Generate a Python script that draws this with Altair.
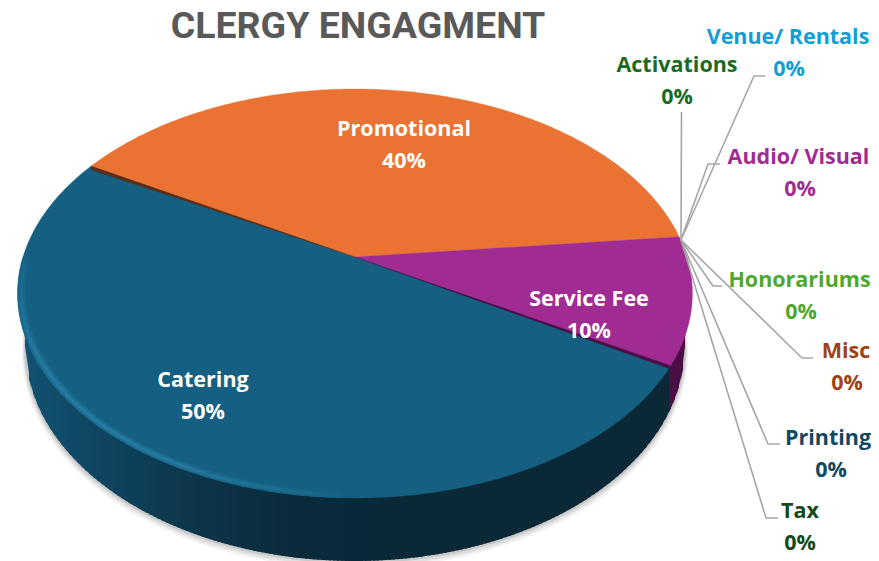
import math
import altair as alt

# ---- chart values ----
categories = ["Catering", "Promotional", "Service Fee", "Venue/ Rentals", "Activations",
              "Audio/ Visual", "Honorariums", "Misc", "Printing", "Tax"]
percents = [50, 40, 10, 0, 0, 0, 0, 0, 0, 0]
title_text = "CLERGY ENGAGMENT"

# ---- styles ----
label_colors = ["#ffffff", "#ffffff", "#ffffff", "#0F9ED5", "#196B24", "#A02B93",
                "#4EA72E", "#9C4216", "#104862", "#124A1B"]
face_colors = {"Catering": "#156082", "Promotional": "#EA7333", "Service Fee": "#A02B93"}
wall_stops = [(20, "#125273"), (100, "#0f4460"), (200, "#0c3448"), (300, "#0a2a3a"), (420, "#0a2836"), (700, "#0a2836")]
LABEL_FONT = "Open Sans"
TITLE_FONT = "Roboto"

# ---- layout (pixel positions in the picture) ----
label_pos = {
    "Catering": (203, 380), "Promotional": (404, 129), "Service Fee": (589, 299),
    "Venue/ Rentals": (788, 37), "Activations": (677, 65), "Audio/ Visual": (798.5, 157),
    "Honorariums": (799.5, 280), "Misc": (846, 351), "Printing": (828, 438), "Tax": (800, 511),
}
pct_center = {"Venue/ Rentals": 789, "Audio/ Visual": 800, "Honorariums": 801, "Misc": 847, "Printing": 831}
line_gap = 32
hub = (681, 239)
leaders = {
    "Venue/ Rentals": [(754, 75), (765, 75)],
    "Activations": [(681.5, 111)],
    "Audio/ Visual": [(708, 163), (720, 163)],
    "Honorariums": [(713, 285), (722, 285)],
    "Misc": [(802, 357), (813, 357)],
    "Printing": [(768, 443), (780, 443)],
    "Tax": [(766, 517), (778, 517)],
}

# ---- perspective disc geometry ----
CX, K, A, B, C = 355, 332, 152.3, 256, -0.1785
BX, BY, BRX, BRY = 355, 345, 330, 215
START_DEG = 30  # where Catering begins, clockwise from 3 o'clock
Y_SHIFT = 1     # the page sits this far above the reference


def rim(deg, r=1.0):
    t = math.radians(deg)
    x, y = r * math.cos(t), r * math.sin(t)
    w = 1 + C * y
    return [CX + K * x / w, (A * y + B) / w]


def mix(c1, c2, f):
    a = [int(c1[i:i + 2], 16) for i in (1, 3, 5)]
    b = [int(c2[i:i + 2], 16) for i in (1, 3, 5)]
    return "#%02x%02x%02x" % tuple(round(p + (q - p) * f) for p, q in zip(a, b))


def feat(points, fill, opacity=1.0):
    return {"type": "Feature",
            "properties": {"fill": fill, "opacity": opacity},
            "geometry": {"type": "Polygon", "coordinates": [points + [points[0]]]}}


def wall_color(x):
    if x > 666:
        return "#4a0f45"
    for (x0, c0), (x1, c1) in zip(wall_stops, wall_stops[1:]):
        if x0 <= x <= x1:
            return mix(c0, c1, (x - x0) / (x1 - x0))
    return wall_stops[-1][1]


def bottom_y(x, rx=BRX, ry=BRY, cy=BY):
    v = 1 - ((x - BX) / rx) ** 2
    return cy + ry * math.sqrt(max(v, 0))


# soft shadow
shadow = []
for dy, grow, op in [(6, 3, 0.05), (4, 2, 0.07), (2, 1, 0.10)]:
    pts = [[BX + (BRX + grow) * math.cos(math.radians(d)),
            BY + dy + (BRY + grow * 0.5) * math.sin(math.radians(d))] for d in range(0, 360, 2)]
    shadow.append(feat(pts, "#000000", op))

# side wall strips, painted left to right with overlap so no seams show
walls = []
xs = list(range(25, 686, 4))
for x0, x1 in zip(xs, xs[1:]):
    xe = min(x1 + 2, 685)
    walls.append(feat([[x0, 292], [xe, 292], [xe, bottom_y(xe)], [x0, bottom_y(x0)]], wall_color(x0)))

# top faces from the percentages
faces = []
slice_ranges = {}
angle = START_DEG
for cat, pct in zip(categories, percents):
    if pct <= 0:
        continue
    sweep = pct * 3.6
    n = int(sweep)
    pts = [[rim(0, 0)[0], rim(0, 0)[1]]] + [rim(angle + sweep * i / n) for i in range(n + 1)]
    faces.append(feat(pts, face_colors[cat]))
    slice_ranges[cat] = (angle, angle + sweep)
    angle += sweep

# bevel highlight along the front-left rim
bevel = []
for d in range(92, 180, 2):
    s = max(0.0, math.sin(math.radians((d - 90) * 180 / 90))) ** 0.7
    for r0, r1, f in [(0.978, 1.0, 0.22), (0.985, 0.994, 0.45)]:
        pts = [rim(d, r0), rim(d + 2.2, r0), rim(d + 2.2, r1), rim(d, r1)]
        bevel.append(feat(pts, mix("#156082", "#3a9cc8", f * s)))

# thin dark exposed edges of the other slices
centre = rim(0, 0)
edge1 = rim(slice_ranges["Catering"][1])
edge2 = rim(slice_ranges["Catering"][0])
edges = [
    feat([centre, edge1, [edge1[0] + 1, edge1[1] + 4]], "#5e2d16"),
    feat([centre, edge2, [edge2[0] - 1, edge2[1] + 3]], "#4a0f45"),
]

projection = dict(type="identity", scale=1, translate=[-8, -8 + Y_SHIFT])
fill_enc = alt.Color("properties.fill:N", scale=None)
op_enc = alt.Opacity("properties.opacity:Q", scale=None)

shadow_layer = alt.Chart(alt.Data(values=shadow)).mark_geoshape(strokeWidth=0).encode(
    color=fill_enc, opacity=op_enc).project(**projection)
wall_layer = alt.Chart(alt.Data(values=walls)).mark_geoshape(strokeWidth=0).encode(
    color=fill_enc).project(**projection)
face_layer = alt.Chart(alt.Data(values=faces + bevel + edges)).mark_geoshape(strokeWidth=0.3).encode(
    color=fill_enc, stroke=alt.Stroke("properties.fill:N", scale=None)).project(**projection)

x_scale = alt.Scale(domain=[8, 871], range=[0, 863], nice=False, zero=False)
y_scale = alt.Scale(domain=[8 - Y_SHIFT, 561 - Y_SHIFT], range=[0, 553], nice=False, zero=False)
x_enc = alt.X("x:Q", scale=x_scale, axis=None)
y_enc = alt.Y("y:Q", scale=y_scale, axis=None)

leader_rows = []
for cat, pts in leaders.items():
    for i, (lx, ly) in enumerate([hub] + pts):
        leader_rows.append({"cat": cat, "i": i, "x": lx, "y": ly})
leader_layer = alt.Chart(alt.Data(values=leader_rows)).mark_line(color="#a6a6a6", strokeWidth=1.6).encode(
    x=x_enc, y=y_enc, detail="cat:N", order="i:Q")

text_rows = []
for cat, pct, col in zip(categories, percents, label_colors):
    lx, ly = label_pos[cat]
    text_rows.append({"t": cat, "x": lx, "y": ly, "c": col})
    text_rows.append({"t": f"{pct}%", "x": pct_center.get(cat, lx), "y": ly + line_gap, "c": col})
text_layer = alt.Chart(alt.Data(values=text_rows)).mark_text(
    font=LABEL_FONT, fontSize=21.5, fontWeight="bold", align="center", baseline="middle").encode(
    x=x_enc, y=y_enc, text="t:N", color=alt.Color("c:N", scale=None))

title_layer = alt.Chart(alt.Data(values=[{"t": title_text, "x": 358, "y": 26}])).mark_text(
    font=TITLE_FONT, fontSize=37.5, fontWeight="bold", color="#595959", align="center", baseline="middle").encode(
    x=x_enc, y=y_enc, text="t:N")

chart = alt.layer(shadow_layer, wall_layer, face_layer, leader_layer, text_layer, title_layer).properties(
    width=863, height=553, padding=0, autosize="none", background="white"
).configure_view(stroke=None)

chart.save("out.html", embed_options={"renderer": "svg", "actions": False})
